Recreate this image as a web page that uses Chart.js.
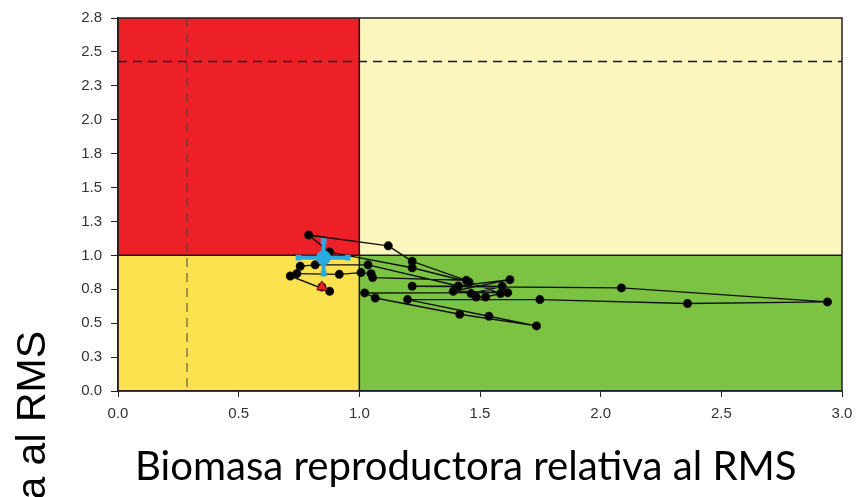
<!DOCTYPE html>
<html lang="es">
<head>
    <meta charset="UTF-8">
    <title>Diagrama de estado del stock</title>
    <style>
        * { margin: 0; padding: 0; box-sizing: border-box; }
        body { background: #fff; width: 863px; height: 497px; overflow: hidden; }
        .chart-container { position: relative; width: 863px; height: 497px; }
        canvas { display: block; }
    </style>
</head>
<body>
    <div class="chart-container">
        <canvas id="kobeChart" width="863" height="497"></canvas>
    </div>

    <script src="https://cdn.jsdelivr.net/npm/chart.js"></script>
    <script>
        // trayectoria anual (biomasa relativa, mortalidad relativa)
        const pathX = [0.845, 0.877, 0.714, 0.755, 0.817, 1.036, 1.410, 1.624, 1.389, 1.615,
                       1.022, 1.066, 1.416, 1.734, 1.537, 1.200, 1.748, 2.360, 2.940, 2.086,
                       1.219, 1.592, 1.463, 1.484, 1.523, 1.585, 1.454, 1.219, 0.877, 0.790,
                       1.120, 1.219, 1.443, 1.055, 1.049, 1.007, 0.917, 0.741];
        const pathY = [0.767, 0.735, 0.848, 0.920, 0.930, 0.930, 0.774, 0.821, 0.735, 0.725,
                       0.723, 0.686, 0.566, 0.480, 0.551, 0.674, 0.674, 0.645, 0.657, 0.760,
                       0.772, 0.772, 0.718, 0.693, 0.693, 0.718, 0.804, 0.909, 1.024, 1.150,
                       1.070, 0.956, 0.816, 0.836, 0.865, 0.873, 0.860, 0.865];

        // primer año (triángulo rojo)
        const startX = [0.845];
        const startY = [0.767];

        // último año con intervalos
        const lastX = [0.852];
        const lastY = [0.983];
        const lastXRange = [0.748, 0.952];
        const lastYRange = [0.865, 1.105];

        // puntos de referencia
        const limitX = 0.286;
        const limitY = 2.43;

        const xTickLabels = ['0.0', '0.5', '1.0', '1.5', '2.0', '2.5', '3.0'];
        const yTickLabels = ['0.0', '0.3', '0.5', '0.8', '1.0', '1.3', '1.5', '1.8', '2.0', '2.3', '2.5', '2.8'];

        const xTitle = 'Biomasa reproductora relativa al RMS';
        const yTitle = 'Mortalidad por pesca relativa al RMS';

        const quadrantPlugin = {
            id: 'quadrants',
            beforeDraw(chart) {
                const { ctx, chartArea: a, scales: { x, y } } = chart;
                const mx = x.getPixelForValue(1);
                const my = y.getPixelForValue(1);
                ctx.save();
                ctx.fillStyle = '#ED1F27';
                ctx.fillRect(a.left, a.top, mx - a.left, my - a.top);
                ctx.fillStyle = '#FBF6BE';
                ctx.fillRect(mx, a.top, a.right - mx, my - a.top);
                ctx.fillStyle = '#FCE24E';
                ctx.fillRect(a.left, my, mx - a.left, a.bottom - my);
                ctx.fillStyle = '#7CC243';
                ctx.fillRect(mx, my, a.right - mx, a.bottom - my);
                ctx.restore();
            },
            beforeDatasetsDraw(chart) {
                const { ctx, chartArea: a, scales: { x, y } } = chart;
                const mx = x.getPixelForValue(1);
                const my = y.getPixelForValue(1);
                ctx.save();
                ctx.strokeStyle = '#1a1a1a';
                ctx.lineWidth = 1.5;
                ctx.beginPath();
                ctx.moveTo(mx, a.top); ctx.lineTo(mx, a.bottom);
                ctx.moveTo(a.left, my); ctx.lineTo(a.right, my);
                ctx.stroke();

                // lineas limite discontinuas
                ctx.setLineDash([9, 6]);
                ctx.lineWidth = 1.5;
                const ly = y.getPixelForValue(limitY);
                ctx.beginPath();
                ctx.moveTo(a.left, ly); ctx.lineTo(a.right, ly);
                ctx.stroke();
                ctx.lineWidth = 1;
                ctx.strokeStyle = '#444';
                const lx = x.getPixelForValue(limitX);
                ctx.beginPath();
                ctx.moveTo(lx, a.top); ctx.lineTo(lx, a.bottom);
                ctx.stroke();
                ctx.setLineDash([]);

                ctx.strokeStyle = '#222';
                ctx.lineWidth = 1.5;
                ctx.strokeRect(a.left, a.top, a.right - a.left, a.bottom - a.top);
                ctx.restore();
            },
            afterDraw(chart) {
                const { ctx } = chart;
                ctx.save();
                ctx.fillStyle = '#000';
                // titulo eje x, ajustado al ancho
                let size = 40;
                ctx.font = size + 'px Lato, "Open Sans", sans-serif';
                const w = ctx.measureText(xTitle).width;
                size = size * 662 / w;
                ctx.font = size + 'px Lato, "Open Sans", sans-serif';
                ctx.textAlign = 'left';
                ctx.textBaseline = 'alphabetic';
                ctx.fillText(xTitle, 135, 480);

                // titulo eje y (cortado por el borde)
                ctx.translate(45, 331);
                ctx.rotate(-Math.PI / 2);
                ctx.font = '41px "Liberation Sans", Arial, sans-serif';
                ctx.textAlign = 'right';
                ctx.fillText(yTitle, 0, 0);
                ctx.restore();
            }
        };

        const tickFont = { family: '"Liberation Sans", Arial, sans-serif', size: 15 };

        new Chart(document.getElementById('kobeChart'), {
            type: 'scatter',
            data: {
                datasets: [
                    {
                        label: 'xerr',
                        data: lastXRange.map(v => ({ x: v, y: lastY[0] })),
                        showLine: true,
                        borderColor: '#2BAAE2',
                        borderWidth: 4,
                        pointStyle: 'rect',
                        pointRadius: 4,
                        backgroundColor: '#2BAAE2',
                        pointBorderWidth: 0,
                        order: 0
                    },
                    {
                        label: 'yerr',
                        data: lastYRange.map(v => ({ x: lastX[0], y: v })),
                        showLine: true,
                        borderColor: '#2BAAE2',
                        borderWidth: 4,
                        pointStyle: 'rect',
                        pointRadius: 4,
                        backgroundColor: '#2BAAE2',
                        pointBorderWidth: 0,
                        order: 0
                    },
                    {
                        label: 'ultimo',
                        data: lastX.map((v, i) => ({ x: v, y: lastY[i] })),
                        pointRadius: 7,
                        backgroundColor: '#2BAAE2',
                        borderColor: '#2BAAE2',
                        order: 0
                    },
                    {
                        label: 'inicio',
                        data: startX.map((v, i) => ({ x: v, y: startY[i] })),
                        pointStyle: 'triangle',
                        pointRadius: 6,
                        backgroundColor: '#ED1F27',
                        borderColor: '#7a1010',
                        borderWidth: 1,
                        order: 1
                    },
                    {
                        label: 'trayectoria',
                        data: pathX.map((v, i) => ({ x: v, y: pathY[i] })),
                        showLine: true,
                        borderColor: '#111',
                        borderWidth: 1.4,
                        pointRadius: 3.8,
                        backgroundColor: '#000',
                        borderJoinStyle: 'round',
                        order: 2
                    }
                ]
            },
            options: {
                responsive: false,
                animation: false,
                devicePixelRatio: 1,
                layout: { padding: { top: 15, right: 21, left: 0, bottom: 0 } },
                plugins: {
                    legend: { display: false },
                    tooltip: { enabled: false }
                },
                scales: {
                    x: {
                        type: 'linear',
                        min: 0,
                        max: 3,
                        afterFit(scale) { scale.height = 106; },
                        ticks: {
                            stepSize: 0.5,
                            padding: 8,
                            maxRotation: 0,
                            color: '#333',
                            font: tickFont,
                            callback: (v, i) => xTickLabels[i]
                        },
                        grid: { drawOnChartArea: false, drawTicks: true, tickLength: 6, color: '#222' },
                        border: { display: true, color: '#222', width: 1.5 }
                    },
                    y: {
                        type: 'linear',
                        min: 0,
                        max: 2.75,
                        afterFit(scale) { scale.width = 118; },
                        ticks: {
                            stepSize: 0.25,
                            padding: 9,
                            autoSkip: false,
                            color: '#333',
                            font: tickFont,
                            callback: (v, i) => yTickLabels[i]
                        },
                        grid: { drawOnChartArea: false, drawTicks: true, tickLength: 7, color: '#222' },
                        border: { display: true, color: '#222', width: 1.5 }
                    }
                }
            },
            plugins: [quadrantPlugin]
        });
    </script>
</body>
</html>
